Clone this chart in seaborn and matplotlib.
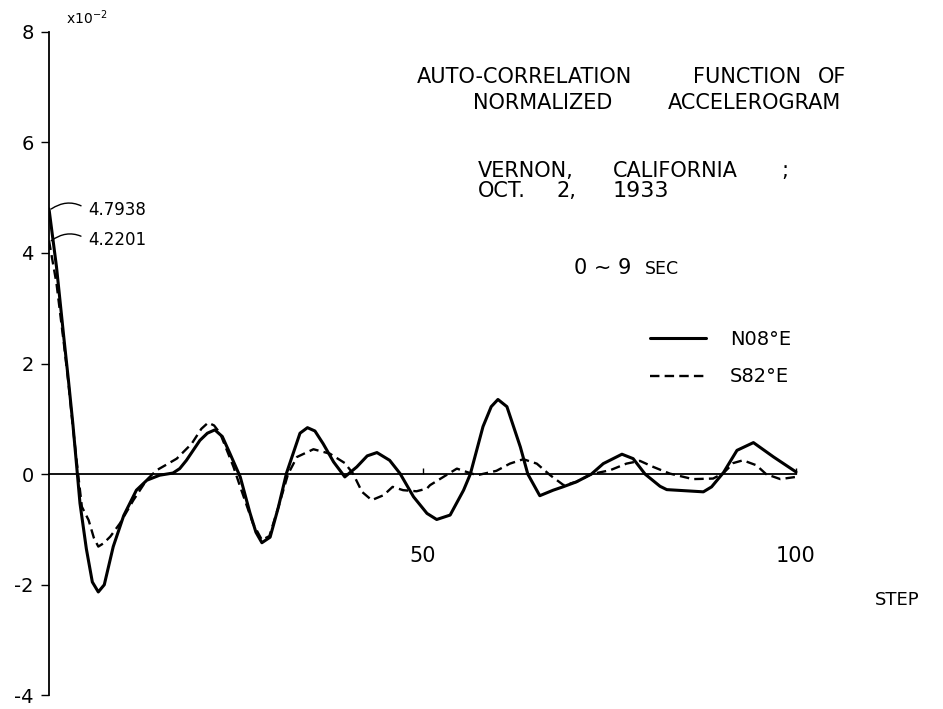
import matplotlib
matplotlib.use("Agg")
import matplotlib.pyplot as plt
import pandas as pd
import seaborn as sns

# Auto-correlation (x10^-2) of the normalized accelerogram, two components
n08e_step = [0, 1, 2, 2.6, 3.2, 3.8, 4.15, 5, 5.8, 6.6, 7.4, 8.6, 10, 11.7, 13.1,
             14.8, 16.6, 17.5, 18.4, 19.3, 20.2, 21.2, 22.2, 23.2, 24.2, 25.6, 26.9,
             27.7, 28.5, 29.6, 30.7, 31.8, 33.6, 34.6, 35.6, 36.7, 38.1, 39.6, 41.2,
             42.6, 43.9, 45.6, 47, 48.8, 50.6, 51.9, 53.7, 55.5, 56.4, 58.1, 59.2,
             60.1, 61.3, 63.1, 64.1, 65.7, 67.5, 68.8, 70.6, 72.6, 74.2, 76.7, 78.2,
             79.8, 81.8, 82.7, 87.6, 88.7, 90.3, 92.1, 94.3, 97, 100]
n08e_value = [4.7938, 3.75, 2.45, 1.7, 0.9, 0.0, -0.53, -1.35, -1.95, -2.13, -2.0,
              -1.31, -0.75, -0.29, -0.11, -0.02, 0.02, 0.1, 0.25, 0.43, 0.61, 0.74,
              0.8, 0.68, 0.38, -0.05, -0.7, -1.05, -1.24, -1.14, -0.6, 0.02, 0.74,
              0.84, 0.78, 0.55, 0.22, -0.05, 0.13, 0.33, 0.39, 0.25, 0.01, -0.41,
              -0.71, -0.82, -0.74, -0.29, 0.0, 0.86, 1.22, 1.35, 1.22, 0.49, 0.0,
              -0.39, -0.29, -0.23, -0.14, 0.0, 0.19, 0.36, 0.28, 0.0, -0.22, -0.28,
              -0.32, -0.23, 0.03, 0.43, 0.57, 0.31, 0.04]

s82e_step = [0, 1, 2, 2.6, 3.2, 3.9, 4.4, 5.3, 6.0, 6.6, 7.3, 8.2, 9.5, 11.3, 13.1,
             14.4, 15.7, 17.1, 19.1, 20.4, 21.3, 22.1, 22.9, 24.7, 25.6, 27.3, 28.5,
             29.5, 30.7, 32.0, 33.2, 35.4, 37.6, 39.6, 40.7, 41.9, 43.2, 44.8, 46.0,
             47.4, 49.2, 50.6, 51.0, 52.8, 54.6, 55.9, 57.3, 58.6, 59.9, 61.7, 63.5,
             65.3, 67.1, 68.9, 70.6, 72.6, 75.1, 77.3, 79.1, 80.9, 83.1, 86.2, 88.9,
             90.3, 91.6, 92.9, 94.7, 96.0, 97.9, 100]
s82e_value = [4.2201, 3.45, 2.35, 1.65, 0.85, 0.0, -0.59, -0.83, -1.15, -1.31, -1.25,
              -1.13, -0.89, -0.47, -0.1, 0.07, 0.17, 0.28, 0.55, 0.82, 0.93, 0.88,
              0.74, 0.13, -0.23, -0.89, -1.19, -1.12, -0.6, 0.0, 0.31, 0.45, 0.37,
              0.2, 0.01, -0.32, -0.47, -0.38, -0.23, -0.29, -0.31, -0.26, -0.2,
              -0.05, 0.1, 0.04, -0.02, 0.02, 0.06, 0.19, 0.27, 0.19, -0.02, -0.2,
              -0.14, 0.0, 0.07, 0.19, 0.24, 0.13, 0.01, -0.09, -0.08, 0.02, 0.2,
              0.25, 0.16, 0.0, -0.09, -0.05]

series_labels = ["N08°E", "S82°E"]
peak_labels = ["4.7938", "4.2201"]
y_ticks = [-4, -2, 0, 2, 4, 6, 8]
y_tick_labels = ["-4", "-2", "0", "2", "4", "6", "8"]
x_ticks = [50, 100]
x_tick_labels = ["50", "100"]

df_n = pd.DataFrame({"step": n08e_step, "value": n08e_value})
df_s = pd.DataFrame({"step": s82e_step, "value": s82e_value})

sns.set_theme(style="white")
plt.rcParams["font.family"] = ["DejaVu Sans"]
plt.rcParams["text.color"] = "black"
plt.rcParams["axes.labelcolor"] = "black"
plt.rcParams["xtick.color"] = "black"
plt.rcParams["ytick.color"] = "black"

W, H = 943, 709
fig = plt.figure(figsize=(W / 100, H / 100), dpi=100)
fig.patch.set_facecolor("white")

# axes frame in pixel terms: x=0 at px 49, x=100 at px 796; y=8 at px 31.6, y=-4 at px 695.4
px_per_step = (796 - 49) / 100
ax = fig.add_axes([49 / W, 1 - 695.4 / H, (W - 49) / W, (695.4 - 31.6) / H])
ax.set_facecolor("white")

sns.lineplot(data=df_n, x="step", y="value", ax=ax, color="black", lw=2.2,
             sort=False, estimator=None, label=series_labels[0])
sns.lineplot(data=df_s, x="step", y="value", ax=ax, color="black", lw=1.7,
             sort=False, estimator=None, label=series_labels[1])
ax.lines[1].set_dashes((4, 2.2))

ax.set_xlim(0, (W - 49) / px_per_step)
ax.set_ylim(-4, 8)
ax.set_xlabel("")
ax.set_ylabel("")

for side in ("top", "right"):
    ax.spines[side].set_visible(False)
ax.spines["bottom"].set_position(("data", 0))
ax.spines["bottom"].set_bounds(0, 100)
ax.spines["bottom"].set_linewidth(1.3)
ax.spines["bottom"].set_color("black")
ax.spines["left"].set_linewidth(1.3)
ax.spines["left"].set_color("black")

ax.set_yticks(y_ticks)
ax.set_yticklabels(y_tick_labels)
ax.tick_params(axis="y", direction="out", length=6, width=1, pad=5,
               labelsize=14, colors="black", left=True)
ax.set_xticks(x_ticks)
ax.set_xticklabels(x_tick_labels)
ax.tick_params(axis="x", direction="in", length=4, width=1, pad=52,
               labelsize=15, colors="black", bottom=True)

# legend
handles, labels = ax.get_legend_handles_labels()
leg = ax.legend(handles, labels, loc="upper left", bbox_to_anchor=(650 / W, 1 - 330 / H),
                bbox_transform=fig.transFigure, frameon=False, fontsize=14,
                handlelength=2.9, handletextpad=1.2, labelspacing=0.95,
                borderpad=0, borderaxespad=0)
for t in leg.get_texts():
    t.set_color("black")

# peak value call-outs
for lab, yv, ty in [(peak_labels[0], n08e_value[0], 210), (peak_labels[1], s82e_value[0], 240)]:
    ax.annotate(lab, xy=(0.3, yv), xytext=(88, H - ty), textcoords="figure pixels",
                ha="left", va="center", fontsize=12, color="black",
                arrowprops=dict(arrowstyle="-", lw=1.0, color="black",
                                connectionstyle="arc3,rad=0.35",
                                relpos=(0, 0.5), shrinkA=3, shrinkB=0))


def ftext(x, y, s, **kw):
    fig.text(x / W, 1 - y / H, s, va="center", ha="left", color="black", **kw)


# title block
fs = 15
ftext(417, 77, "AUTO-CORRELATION", fontsize=fs)
ftext(693, 77, "FUNCTION", fontsize=fs)
ftext(818, 77, "OF", fontsize=fs)
ftext(473, 103, "NORMALIZED", fontsize=fs)
ftext(668, 103, "ACCELEROGRAM", fontsize=fs)
ftext(478, 171, "VERNON,", fontsize=fs)
ftext(613, 171, "CALIFORNIA", fontsize=fs)
ftext(781, 171, ";", fontsize=fs)
ftext(478, 191, "OCT.", fontsize=fs)
ftext(557, 191, "2,", fontsize=fs)
ftext(613, 191, "1933", fontsize=16)
ftext(574, 268, "0 ~ 9", fontsize=15)
ftext(645, 269, "SEC", fontsize=12.5)
ftext(875, 600, "STEP", fontsize=13)
ftext(66, 18, r"x10$^{-2}$", fontsize=10)

fig.savefig("out.png", dpi=100, facecolor="white")
